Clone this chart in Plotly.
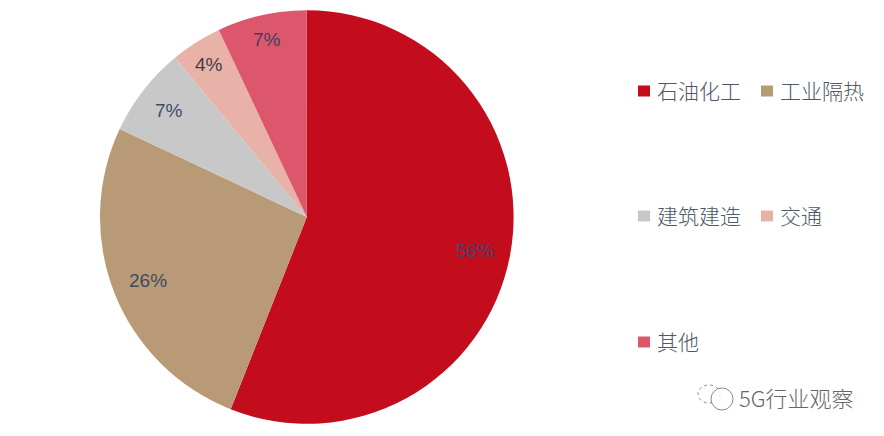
import math
import plotly.graph_objects as go

W, H = 884, 436
categories = ["石油化工", "工业隔热", "建筑建造", "交通", "其他"]
values = [56, 26, 7, 4, 7]
colors = ["#C30D1D", "#B99A76", "#C8C8C8", "#E9B2A8", "#DD576C"]
label_radius_px = [171, 171, 175, 182, 183]
label_colors = ["#44446C", "#3E4A64", "#3E4E64", "#3E4049", "#443E62"]
legend_slots = [(638, 91), (761, 91), (638, 216), (761, 216), (638, 342)]
CX, CY, R = 306.8, 217, 206.8


def px(x):
    return x / W


def py(y):
    return 1 - y / H


fig = go.Figure(
    go.Pie(
        labels=categories,
        values=values,
        sort=False,
        direction="clockwise",
        rotation=0,
        marker=dict(colors=colors, line=dict(width=0)),
        textinfo="none",
        hoverinfo="label+percent",
        showlegend=False,
        domain=dict(x=[px(CX - R), px(CX + R)], y=[py(CY + R), py(CY - R)]),
    )
)

annotations, shapes = [], []
total, running = sum(values), 0
for v, r, c in zip(values, label_radius_px, label_colors):
    a = 2 * math.pi * (running + v / 2) / total
    running += v
    annotations.append(dict(
        x=px(CX + r * math.sin(a)), y=py(CY - r * math.cos(a) + 1),
        xref="paper", yref="paper", xanchor="center", yanchor="middle", showarrow=False,
        text=f"{round(100 * v / total)}%",
        font=dict(family="Liberation Sans, Arial, sans-serif", size=19, color=c),
    ))

for name, color, (lx, ly) in zip(categories, colors, legend_slots):
    shapes.append(dict(type="rect", xref="paper", yref="paper",
                       x0=px(lx), x1=px(lx + 12), y0=py(ly - 5.5), y1=py(ly + 5.5),
                       fillcolor=color, line=dict(width=0)))
    annotations.append(dict(
        x=px(lx + 19), y=py(ly - 1), xref="paper", yref="paper", xanchor="left", yanchor="middle",
        showarrow=False, text=name, borderpad=0, borderwidth=0,
        font=dict(family="Noto Sans CJK SC", size=21, color="#4E5866", weight=300),
    ))

# watermark
annotations.append(dict(
    x=px(856), y=py(397), xref="paper", yref="paper", xanchor="right", yanchor="middle",
    showarrow=False, text="5G行业观察",
    font=dict(family="Noto Sans CJK SC", size=22, color="#666666", weight=300),
))
for (x0, y0, x1, y1) in [(698, 385, 720, 403), (711, 388, 733, 410)]:
    shapes.append(dict(type="circle", xref="paper", yref="paper",
                       x0=px(x0), x1=px(x1), y0=py(y1), y1=py(y0),
                       fillcolor="rgba(255,255,255,0.8)",
                       line=dict(color="#8A8A8A", width=1, dash="dot" if x0 < 705 else "solid")))

fig.update_layout(
    width=W, height=H, autosize=False,
    margin=dict(l=0, r=0, t=0, b=0),
    paper_bgcolor="white", plot_bgcolor="white",
    annotations=annotations, shapes=shapes,
)
fig.write_html("out.html", config=dict(displayModeBar=False),
               post_script="document.body.style.margin='0';document.documentElement.style.overflow='hidden';")
